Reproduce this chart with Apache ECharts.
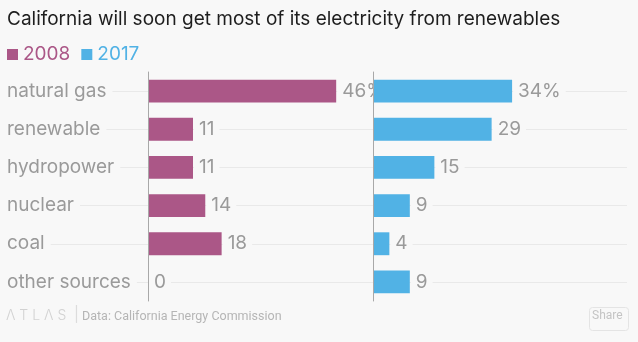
<!DOCTYPE html>
<html>
<head>
<meta charset="utf-8">
<script src="https://cdn.jsdelivr.net/npm/echarts@6/dist/echarts.min.js"></script>
<style>
  html, body { margin: 0; padding: 0; background: #f8f8f8; }
  #chart { width: 638px; height: 342px; }
</style>
</head>
<body>
<div id="chart"></div>
<script>
// Share of California electricity by source, percent
const categories = ['natural gas', 'renewable', 'hydropower', 'nuclear', 'coal', 'other sources'];
const values2008 = [46, 11, 11, 14, 18, 0];
const values2017 = [34, 29, 15, 9, 4, 9];
const seriesNames = ['2008', '2017'];

const BG = '#f8f8f8';
const COLORS = ['#ab5787', '#51b2e5'];
const GRAY = '#9a9a9a';
const FONT = 'Inter, "Noto Sans", sans-serif';

const chart = echarts.init(document.getElementById('chart'), null, { renderer: 'canvas' });

const valueLabel = {
  show: true,
  position: 'right',
  distance: 1,
  color: GRAY,
  fontFamily: FONT,
  fontSize: 19,
  backgroundColor: BG,
  padding: [1, 5, 1, 5],
  formatter: p => (p.dataIndex === 0 ? p.value + '%' : String(p.value))
};

chart.setOption({
  backgroundColor: BG,
  animation: false,
  title: {
    text: 'California will soon get most of its electricity from renewables',
    left: 2,
    top: 5,
    textStyle: { color: '#1e1e1e', fontFamily: FONT, fontSize: 19, fontWeight: 'normal' }
  },
  legend: {
    left: 2,
    top: 40,
    itemWidth: 11,
    itemHeight: 11,
    itemGap: 11,
    icon: 'rect',
    selectedMode: false,
    textStyle: { fontFamily: FONT, fontSize: 19 },
    data: seriesNames.map((n, i) => ({ name: n, textStyle: { color: COLORS[i] } }))
  },
  grid: [
    { left: 148, top: 72, width: 225, height: 229 },
    { left: 373, top: 72, width: 225, height: 229 },
    { left: 7, top: 91, width: 620, height: 191 }
  ],
  xAxis: [
    { gridIndex: 0, type: 'value', min: 0, max: 55, show: false },
    { gridIndex: 1, type: 'value', min: 0, max: 55, show: false },
    { gridIndex: 2, type: 'value', min: 0, max: 1, show: false }
  ],
  yAxis: [
    {
      gridIndex: 0, type: 'category', data: categories, inverse: true, z: 4,
      axisLine: { show: true, lineStyle: { color: '#a8a8a8', width: 1 } },
      axisTick: { show: false },
      splitLine: { show: false },
      axisLabel: {
        align: 'left', margin: 141, color: GRAY, fontFamily: FONT, fontSize: 19,
        backgroundColor: BG, padding: [1, 6, 1, 0]
      }
    },
    {
      gridIndex: 1, type: 'category', data: categories, inverse: true, z: 4,
      axisLine: { show: true, lineStyle: { color: '#a8a8a8', width: 1 } },
      axisTick: { show: false },
      axisLabel: { show: false },
      splitLine: { show: false }
    },
    {
      // row guide lines through the centre of each category
      gridIndex: 2, type: 'category', data: categories, inverse: true, boundaryGap: false, z: 0,
      axisLine: { show: false }, axisTick: { show: false }, axisLabel: { show: false },
      splitLine: { show: true, lineStyle: { color: '#e9e9e9', width: 1 } }
    }
  ],
  series: [
    {
      name: seriesNames[0], type: 'bar', xAxisIndex: 0, yAxisIndex: 0, z: 2,
      data: values2008, barCategoryGap: '40%',
      itemStyle: { color: COLORS[0] },
      label: valueLabel
    },
    {
      name: seriesNames[1], type: 'bar', xAxisIndex: 1, yAxisIndex: 1, z: 3,
      data: values2017, barCategoryGap: '40%',
      itemStyle: { color: COLORS[1] },
      label: valueLabel
    }
  ],
  graphic: [
    {
      type: 'text', left: 6, top: 309, z: 10,
      style: { text: 'Λ T L Λ S', fill: '#d2d2d2', font: '300 14px ' + FONT }
    },
    {
      type: 'text', left: 74, top: 307, z: 10,
      style: { text: '|', fill: '#dcdcdc', font: '15px ' + FONT }
    },
    {
      type: 'text', left: 82, top: 310, z: 10,
      style: { text: 'Data: California Energy Commission', fill: '#b5b5b5', font: '12.5px Roboto, sans-serif' }
    },
    {
      type: 'rect', left: 587, top: 305, z: 10,
      shape: { width: 39, height: 23, r: 3 },
      style: { fill: 'none', stroke: '#e4e4e4', lineWidth: 1 }
    },
    {
      type: 'text', left: 592, top: 310, z: 10,
      style: { text: 'Share', fill: '#c4c4c4', font: '12px Roboto, sans-serif' }
    }
  ]
});
</script>
</body>
</html>
